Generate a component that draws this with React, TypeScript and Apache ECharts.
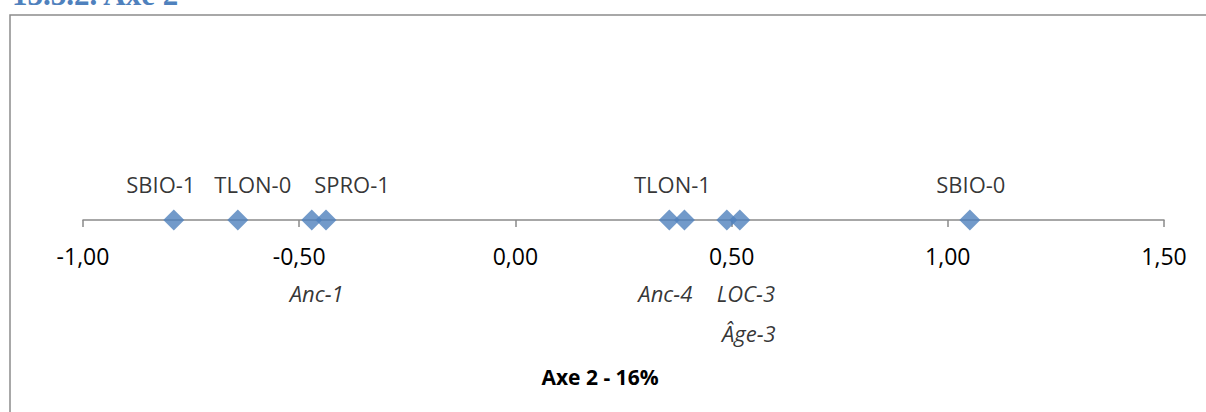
import React, { useEffect, useRef } from "react";
import * as echarts from "echarts";

// Data
const pointNames = ["SBIO-1", "TLON-0", "Anc-1", "SPRO-1", "Anc-4", "TLON-1", "LOC-3", "Âge-3", "SBIO-0"];
const axis2Values = [-0.79, -0.642, -0.471, -0.438, 0.356, 0.391, 0.489, 0.519, 1.051];
const italicLabels = [false, false, true, false, true, false, true, true, false];
const axisTicks = [-1.0, -0.5, 0.0, 0.5, 1.0, 1.5];
const axisTitle = "Axe 2 - 16%";
const sectionTitle = "13.3.2. Axe 2";

// Label layout (offsets from the marker centre, in px)
const labelOffsets: [number, number][] = [
  [-13, -36],
  [15, -36],
  [5, 73],
  [26, -36],
  [-4, 73],
  [-12, -36],
  [19, 73],
  [9, 113],
  [1, -36],
];

const FONT = "'Open Sans', 'Noto Sans', sans-serif";

export default function App() {
  const ref = useRef<HTMLDivElement>(null);
  useEffect(() => {
    if (!ref.current) return;
    const chart = echarts.init(ref.current, undefined, { renderer: "svg" });
    const data = pointNames.map((name, i) => ({
      name,
      value: [axis2Values[i], 0],
      label: {
        show: true,
        position: "inside",
        offset: labelOffsets[i],
        formatter: name,
        color: "#000",
        fontFamily: FONT,
        fontSize: 22,
        fontStyle: italicLabels[i] ? "italic" : "normal",
      },
    }));
    chart.setOption({
      animation: false,
      backgroundColor: "#fff",
      grid: { left: 83, right: 42, top: 20, bottom: 192, containLabel: false, outerBoundsMode: "none" },
      xAxis: {
        type: "value",
        position: "bottom",
        min: axisTicks[0],
        max: axisTicks[axisTicks.length - 1],
        interval: 0.5,
        splitLine: { show: false },
        axisLine: { show: true, onZero: false, lineStyle: { color: "#8a8a8a", width: 1.5 } },
        axisTick: { show: true, length: 7, lineStyle: { color: "#8a8a8a", width: 1.5 } },
        axisLabel: {
          margin: 24,
          color: "#000",
          fontFamily: FONT,
          fontSize: 23,
          formatter: (v: number) => v.toFixed(2).replace(".", ","),
        },
      },
      yAxis: {
        type: "value",
        min: 0,
        max: 1,
        show: false,
      },
      series: [
        {
          type: "scatter",
          symbol: "diamond",
          symbolSize: [21, 21],
          clip: false,
          itemStyle: { color: "#4F81BD" },
          data,
        },
      ],
      graphic: [
        {
          type: "rect",
          shape: { x: 10, y: 15, width: 1300, height: 500 },
          style: { fill: "none", stroke: "#8c8c8c", lineWidth: 1.5 },
          silent: true,
        },
        {
          type: "text",
          x: 12,
          y: 10,
          style: {
            text: sectionTitle,
            fill: "#4F81BD",
            font: "bold 31px 'Liberation Serif', 'DejaVu Serif', serif",
            verticalAlign: "bottom",
          },
        },
        {
          type: "text",
          x: 600,
          y: 377,
          style: {
            text: axisTitle,
            fill: "#000",
            font: "bold 21px 'Open Sans', 'Noto Sans', sans-serif",
            align: "center",
            verticalAlign: "middle",
          },
        },
      ],
    });
    return () => chart.dispose();
  }, []);
  return (
    <div
      ref={ref}
      style={{ position: "fixed", left: 0, top: 0, width: 1206, height: 412 }}
    />
  );
}
